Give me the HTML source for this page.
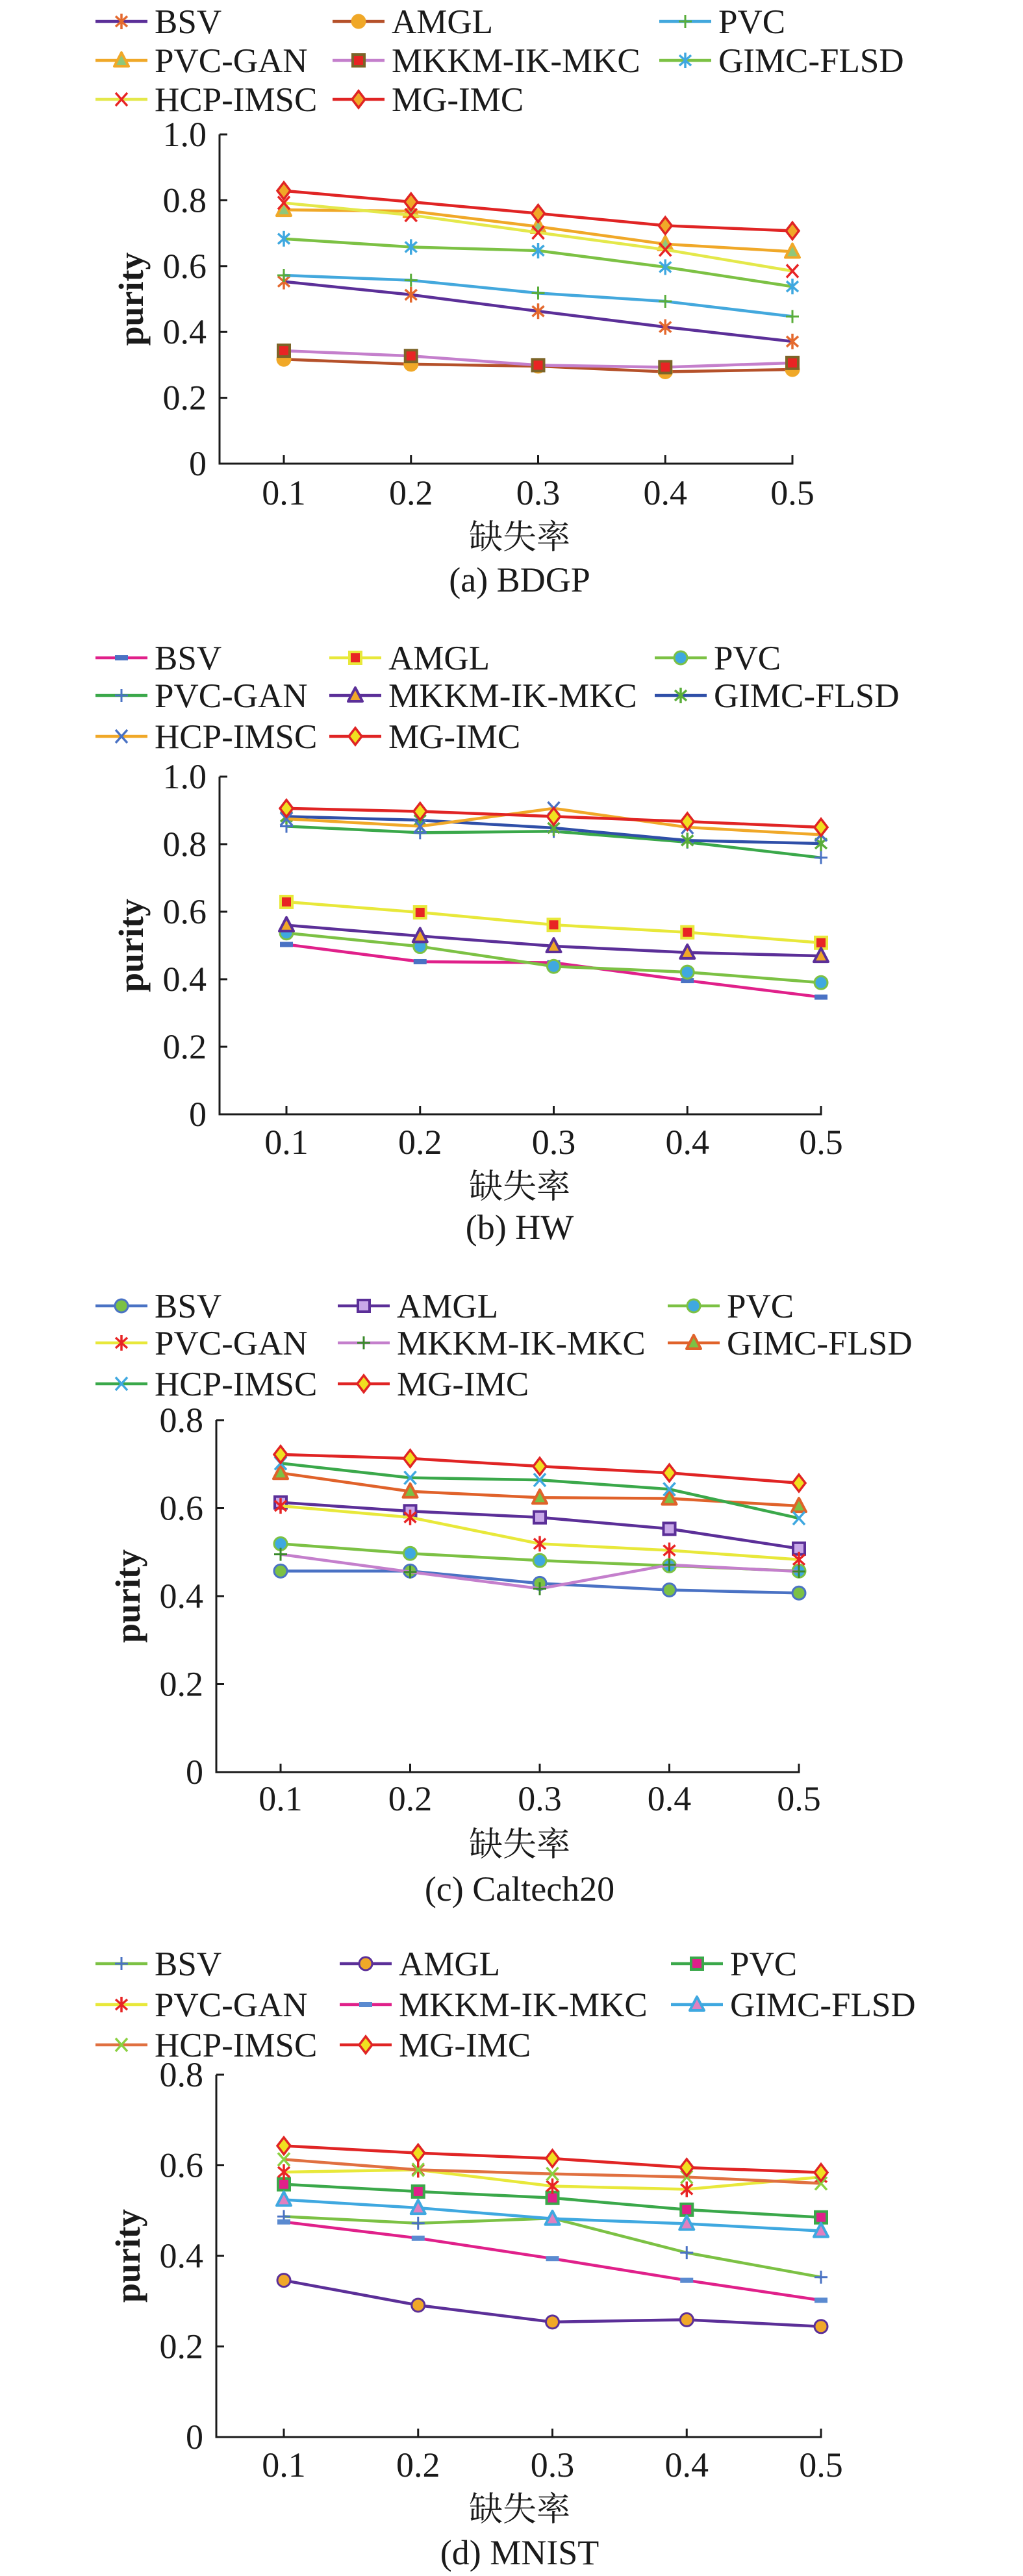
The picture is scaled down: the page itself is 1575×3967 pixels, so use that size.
<!DOCTYPE html>
<html><head><meta charset="utf-8">
<style>
html,body{margin:0;padding:0;background:#fff;}
svg{display:block;}
text{font-family:"Liberation Serif","Noto Serif CJK SC",serif;fill:#1a1a1a;}
</style></head>
<body>
<svg id="fig" width="1575" height="3967" viewBox="0 0 1575 3967" xmlns="http://www.w3.org/2000/svg"></svg>
<script>
// ---- shared categories ----
const missingRates = [0.1, 0.2, 0.3, 0.4, 0.5];
const xTickLabels = ["0.1", "0.2", "0.3", "0.4", "0.5"];
const yTicks10 = [0, 0.2, 0.4, 0.6, 0.8, 1.0];
const yTickLabels10 = ["0", "0.2", "0.4", "0.6", "0.8", "1.0"];
const yTicks08 = [0, 0.2, 0.4, 0.6, 0.8];
const yTickLabels08 = ["0", "0.2", "0.4", "0.6", "0.8"];
const seriesNames = ["BSV","AMGL","PVC","PVC-GAN","MKKM-IK-MKC","GIMC-FLSD","HCP-IMSC","MG-IMC"];

// ---- (a) BDGP ----
const bdgpBSV = [0.553, 0.513, 0.463, 0.415, 0.371];
const bdgpAMGL = [0.317, 0.302, 0.296, 0.279, 0.286];
const bdgpPVC = [0.572, 0.557, 0.518, 0.493, 0.447];
const bdgpPVCGAN = [0.771, 0.767, 0.720, 0.667, 0.644];
const bdgpMKKM = [0.343, 0.327, 0.299, 0.293, 0.306];
const bdgpGIMC = [0.683, 0.658, 0.647, 0.597, 0.538];
const bdgpHCP = [0.792, 0.755, 0.702, 0.650, 0.585];
const bdgpMGIMC = [0.829, 0.795, 0.760, 0.723, 0.707];

// ---- (b) HW ----
const hwBSV = [0.503, 0.452, 0.449, 0.396, 0.347];
const hwAMGL = [0.629, 0.598, 0.561, 0.539, 0.508];
const hwPVC = [0.537, 0.497, 0.438, 0.421, 0.390];
const hwPVCGAN = [0.853, 0.834, 0.838, 0.806, 0.760];
const hwMKKM = [0.560, 0.528, 0.498, 0.479, 0.469];
const hwGIMC = [0.882, 0.871, 0.848, 0.811, 0.802];
const hwHCP = [0.875, 0.853, 0.906, 0.850, 0.828];
const hwMGIMC = [0.906, 0.897, 0.882, 0.867, 0.850];

// ---- (c) Caltech20 ----
const calBSV = [0.457, 0.457, 0.429, 0.414, 0.407];
const calAMGL = [0.613, 0.593, 0.579, 0.553, 0.508];
const calPVC = [0.519, 0.497, 0.481, 0.469, 0.457];
const calPVCGAN = [0.605, 0.579, 0.519, 0.504, 0.483];
const calMKKM = [0.495, 0.455, 0.417, 0.471, 0.456];
const calGIMC = [0.680, 0.638, 0.624, 0.622, 0.605];
const calHCP = [0.702, 0.669, 0.664, 0.643, 0.577];
const calMGIMC = [0.722, 0.713, 0.695, 0.680, 0.657];

// ---- (d) MNIST ----
const mnBSV = [0.487, 0.472, 0.483, 0.407, 0.353];
const mnAMGL = [0.346, 0.291, 0.254, 0.259, 0.244];
const mnPVC = [0.558, 0.542, 0.528, 0.502, 0.485];
const mnPVCGAN = [0.585, 0.590, 0.554, 0.547, 0.574];
const mnMKKM = [0.475, 0.439, 0.394, 0.346, 0.302];
const mnGIMC = [0.524, 0.506, 0.482, 0.471, 0.455];
const mnHCP = [0.613, 0.590, 0.581, 0.574, 0.560];
const mnMGIMC = [0.643, 0.627, 0.615, 0.595, 0.584];

const NS = "http://www.w3.org/2000/svg";
const fig = document.getElementById("fig");
function mk(tag, attrs, parent){
  const e = document.createElementNS(NS, tag);
  for (const k in attrs) e.setAttribute(k, attrs[k]);
  (parent||fig).appendChild(e);
  return e;
}

function marker(g, type, cx, cy, fill, stroke){
  const s = 10;
  if (type === "circle") {
    mk("circle",{cx:cx,cy:cy,r:s,fill:fill,stroke:stroke,"stroke-width":3},g);
  } else if (type === "square") {
    mk("rect",{x:cx-s+1,y:cy-s+1,width:2*s-2,height:2*s-2,fill:fill,stroke:stroke,"stroke-width":4},g);
  } else if (type === "dash") {
    mk("rect",{x:cx-10,y:cy-4,width:20,height:8,fill:fill},g);
  } else if (type === "triangle") {
    mk("polygon",{points:`${cx},${cy-s-2} ${cx+s+1},${cy+s-1} ${cx-s-1},${cy+s-1}`,fill:fill,stroke:stroke,"stroke-width":4,"stroke-linejoin":"round"},g);
  } else if (type === "diamond") {
    mk("polygon",{points:`${cx},${cy-s-3} ${cx+s},${cy} ${cx},${cy+s+3} ${cx-s},${cy}`,fill:fill,stroke:stroke,"stroke-width":3.5},g);
  } else if (type === "plus") {
    mk("path",{d:`M${cx-s} ${cy}H${cx+s}M${cx} ${cy-s}V${cy+s}`,stroke:stroke,"stroke-width":3,fill:"none"},g);
  } else if (type === "x") {
    mk("path",{d:`M${cx-9} ${cy-10}L${cx+9} ${cy+10}M${cx+9} ${cy-10}L${cx-9} ${cy+10}`,stroke:stroke,"stroke-width":3.5,fill:"none"},g);
  } else if (type === "star") {
    mk("path",{d:`M${cx} ${cy-12}V${cy+12}M${cx-9} ${cy-8}L${cx+9} ${cy+8}M${cx+9} ${cy-8}L${cx-9} ${cy+8}`,stroke:stroke,"stroke-width":3.5,fill:"none"},g);
  }
}

function drawChart(cfg){
  const g = mk("g",{});
  
  
  const xScale = i => cfg.x0 + (cfg.x1 - cfg.x0) * (missingRates[i] - missingRates[0]) / (missingRates[missingRates.length-1] - missingRates[0]);
  const yScale = v => cfg.yBottom - (cfg.yBottom - cfg.yTop) * v / cfg.yMax;

  // legend
  const lg = mk("g",{},g);
  
  
  cfg.series.forEach((s, i) => {
    const row = Math.floor(i/3), col = i%3;
    const y = cfg.legendY[row];
    const lx = cfg.legendCols[col];
    const e = mk("g",{},lg);
    
    
    mk("line",{x1:lx,y1:y,x2:lx+80,y2:y,stroke:s.color,"stroke-width":4.5},e);
    marker(e, s.marker, lx+40, y, s.mfill, s.mstroke);
    const t = mk("text",{x:lx+91,y:y+18,"font-size":53},e);
    t.textContent = seriesNames[i];
  });

  // axes
  const ax = mk("g",{},g);
  
  
  mk("line",{x1:cfg.axisX,y1:cfg.yTop,x2:cfg.axisX,y2:cfg.yBottom+1.5,stroke:"#1a1a1a","stroke-width":3},ax);
  mk("line",{x1:cfg.axisX-1.5,y1:cfg.yBottom,x2:cfg.x1+1.5,y2:cfg.yBottom,stroke:"#1a1a1a","stroke-width":3},ax);
  cfg.yTicks.forEach((v, i) => {
    const y = yScale(v);
    mk("line",{x1:cfg.axisX,y1:y,x2:cfg.axisX+12,y2:y,stroke:"#1a1a1a","stroke-width":3},ax);
    const t = mk("text",{x:cfg.axisX-20,y:y+18,"font-size":54,"text-anchor":"end"},ax);
    
    
    t.textContent = cfg.yTickLabels[i];
  });
  missingRates.forEach((v, i) => {
    const x = xScale(i);
    mk("line",{x1:x,y1:cfg.yBottom,x2:x,y2:cfg.yBottom-13,stroke:"#1a1a1a","stroke-width":3},ax);
    const t = mk("text",{x:x,y:cfg.tickY+18,"font-size":54,"text-anchor":"middle"},ax);
    
    
    t.textContent = xTickLabels[i];
  });
  const yl = mk("text",{x:0,y:0,"font-size":54,"font-weight":"bold","text-anchor":"middle",transform:`translate(${cfg.axisX-118},${(cfg.yTop+cfg.yBottom)/2}) rotate(-90)`},g);
  
  
  yl.textContent = "purity";
  const xl = mk("text",{x:800,y:cfg.xlabelY+19,"font-size":52,"text-anchor":"middle"},g);
  
  
  xl.textContent = "缺失率";
  const cp = mk("text",{x:800,y:cfg.captionY+18,"font-size":54,"text-anchor":"middle"},g);
  
  
  cp.textContent = cfg.caption;

  // series
  cfg.series.forEach((s, i) => {
    const sg = mk("g",{},g);
    
    
    const pts = s.values.map((v, j) => `${xScale(j)},${yScale(v)}`).join(" ");
    const pl = mk("polyline",{points:pts,fill:"none",stroke:s.color,"stroke-width":4.5,"stroke-linejoin":"round"},sg);
    
    
    s.values.forEach((v, j) => {
      const mg = mk("g",{},sg);
      
      
      marker(mg, s.marker, xScale(j), yScale(v), s.mfill, s.mstroke);
    });
  });
}

drawChart({name:"chart-bdgp", caption:"(a) BDGP", axisX:338, x0:437, x1:1220, yTop:207, yBottom:714, yMax:1.0,
  yTicks:yTicks10, yTickLabels:yTickLabels10, legendY:[33,93,153], legendCols:[147,512,1015],
  tickY:759, xlabelY:826, captionY:893,
  series:[
    {values:bdgpBSV, color:"#5b2f98", marker:"star", mfill:"none", mstroke:"#e4692e"},
    {values:bdgpAMGL, color:"#b5512a", marker:"circle", mfill:"#f0a828", mstroke:"#f0a828"},
    {values:bdgpPVC, color:"#43a8dd", marker:"plus", mfill:"none", mstroke:"#5aad3a"},
    {values:bdgpPVCGAN, color:"#f0a828", marker:"triangle", mfill:"#8fc77a", mstroke:"#f0a828"},
    {values:bdgpMKKM, color:"#c47fcc", marker:"square", mfill:"#e82424", mstroke:"#7c6428"},
    {values:bdgpGIMC, color:"#7cc144", marker:"star", mfill:"none", mstroke:"#3fa8e0"},
    {values:bdgpHCP, color:"#e4e84a", marker:"x", mfill:"none", mstroke:"#e82424"},
    {values:bdgpMGIMC, color:"#e02424", marker:"diamond", mfill:"#f0a828", mstroke:"#e02424"}
  ]});

drawChart({name:"chart-hw", caption:"(b) HW", axisX:338, x0:441, x1:1264, yTop:1196, yBottom:1716, yMax:1.0,
  yTicks:yTicks10, yTickLabels:yTickLabels10, legendY:[1013,1071,1134], legendCols:[147,507,1008],
  tickY:1759, xlabelY:1826, captionY:1890,
  series:[
    {values:hwBSV, color:"#e0208a", marker:"dash", mfill:"#4a72c4", mstroke:"#4a72c4"},
    {values:hwAMGL, color:"#e8e83a", marker:"square", mfill:"#e82424", mstroke:"#e8e83a"},
    {values:hwPVC, color:"#7cc144", marker:"circle", mfill:"#3fa8e0", mstroke:"#7cc144"},
    {values:hwPVCGAN, color:"#3aa84a", marker:"plus", mfill:"none", mstroke:"#4a72c4"},
    {values:hwMKKM, color:"#5b2f98", marker:"triangle", mfill:"#f0a828", mstroke:"#5b2f98"},
    {values:hwGIMC, color:"#2f4fa8", marker:"star", mfill:"none", mstroke:"#5aad3a"},
    {values:hwHCP, color:"#f0a828", marker:"x", mfill:"none", mstroke:"#4a72c4"},
    {values:hwMGIMC, color:"#e02424", marker:"diamond", mfill:"#f0e020", mstroke:"#e02424"}
  ]});

drawChart({name:"chart-caltech20", caption:"(c) Caltech20", axisX:333, x0:432, x1:1230, yTop:2187, yBottom:2729, yMax:0.8,
  yTicks:yTicks08, yTickLabels:yTickLabels08, legendY:[2011,2068,2131], legendCols:[147,520,1028],
  tickY:2770, xlabelY:2839, captionY:2909,
  series:[
    {values:calBSV, color:"#4a72c4", marker:"circle", mfill:"#7cc144", mstroke:"#4a72c4"},
    {values:calAMGL, color:"#5b2f98", marker:"square", mfill:"#c8a8e8", mstroke:"#5b2f98"},
    {values:calPVC, color:"#7cc144", marker:"circle", mfill:"#3fa8e0", mstroke:"#7cc144"},
    {values:calPVCGAN, color:"#e8e83a", marker:"star", mfill:"none", mstroke:"#e82424"},
    {values:calMKKM, color:"#c47fcc", marker:"plus", mfill:"none", mstroke:"#3a8a2a"},
    {values:calGIMC, color:"#e0622a", marker:"triangle", mfill:"#7cc144", mstroke:"#e0622a"},
    {values:calHCP, color:"#3aa84a", marker:"x", mfill:"none", mstroke:"#3fa8e0"},
    {values:calMGIMC, color:"#e02424", marker:"diamond", mfill:"#f0e020", mstroke:"#e02424"}
  ]});

drawChart({name:"chart-mnist", caption:"(d) MNIST", axisX:333, x0:437, x1:1264, yTop:3195, yBottom:3753, yMax:0.8,
  yTicks:yTicks08, yTickLabels:yTickLabels08, legendY:[3024,3087,3149], legendCols:[147,523,1033],
  tickY:3796, xlabelY:3863, captionY:3931,
  series:[
    {values:mnBSV, color:"#7cc144", marker:"plus", mfill:"none", mstroke:"#4a72c4"},
    {values:mnAMGL, color:"#5b2f98", marker:"circle", mfill:"#f0a828", mstroke:"#5b2f98"},
    {values:mnPVC, color:"#3aa84a", marker:"square", mfill:"#e0208a", mstroke:"#3aa84a"},
    {values:mnPVCGAN, color:"#e8e83a", marker:"star", mfill:"none", mstroke:"#e82424"},
    {values:mnMKKM, color:"#e0208a", marker:"dash", mfill:"#5a8ad0", mstroke:"#5a8ad0"},
    {values:mnGIMC, color:"#3fa8e0", marker:"triangle", mfill:"#e080c0", mstroke:"#3fa8e0"},
    {values:mnHCP, color:"#e07040", marker:"x", mfill:"none", mstroke:"#8ad040"},
    {values:mnMGIMC, color:"#e02424", marker:"diamond", mfill:"#f0e020", mstroke:"#e02424"}
  ]});
</script>
</body></html>
